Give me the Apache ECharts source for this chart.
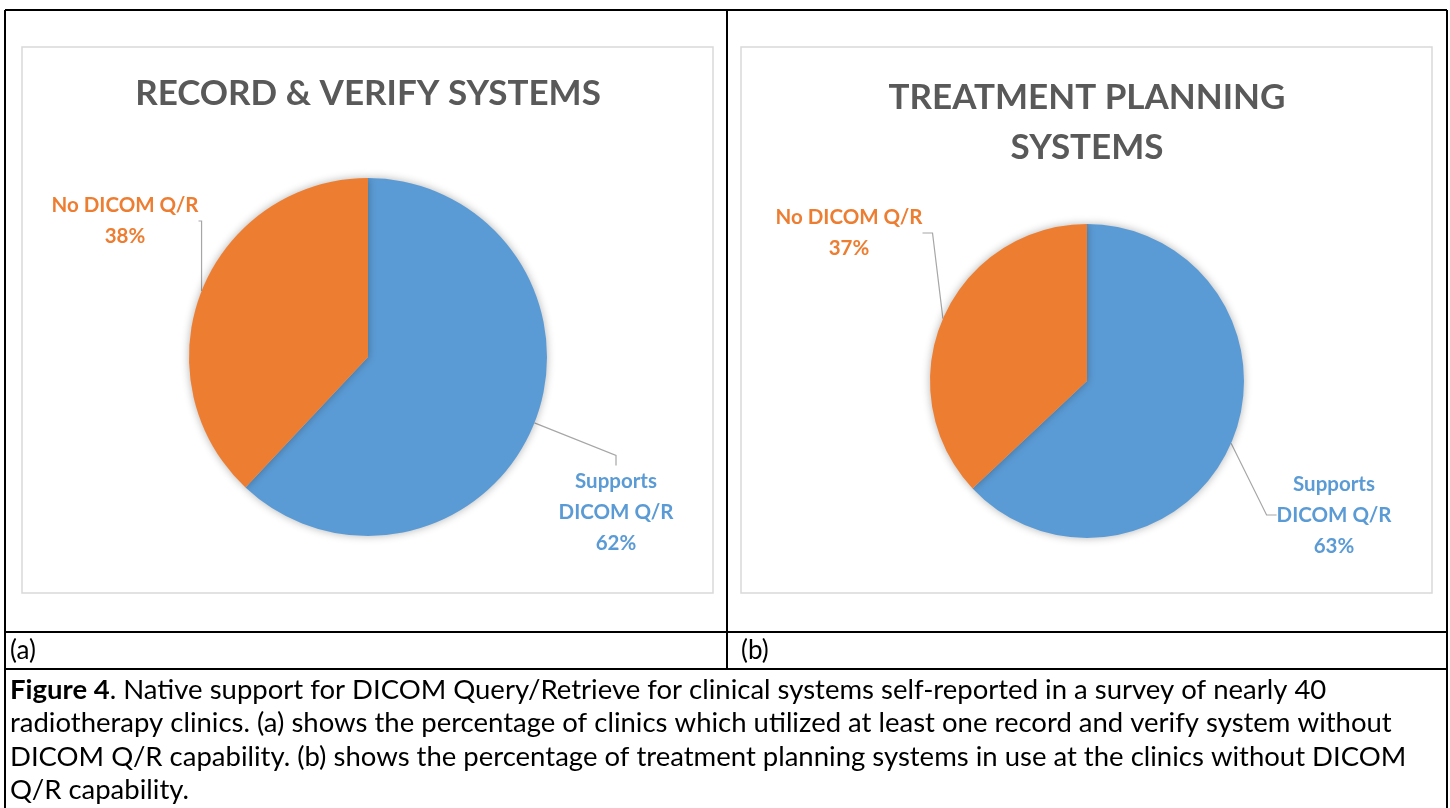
<!DOCTYPE html>
<html><head><meta charset="utf-8">
<script src="https://cdn.jsdelivr.net/npm/echarts@6/dist/echarts.min.js"></script>
<style>html,body{margin:0;padding:0;background:#fff}#c{width:1450px;height:808px}</style>
</head><body><div id="c"></div>
<script>
const categories = ['Supports\nDICOM Q/R', 'No DICOM Q/R'];
const rvValues = [62, 38];
const tpsValues = [63, 37];
const chartTitles = ['RECORD & VERIFY SYSTEMS', 'TREATMENT PLANNING\nSYSTEMS'];
const panelLabels = ['(a)', '(b)'];
const captionBold = 'Figure 4';
const captionLines = [
  '. Native support for DICOM Query/Retrieve for clinical systems self-reported in a survey of nearly 40',
  'radiotherapy clinics. (a) shows the percentage of clinics which utilized at least one record and verify system without',
  'DICOM Q/R capability. (b) shows the percentage of treatment planning systems in use at the clinics without DICOM',
  'Q/R capability.'
];

const FONT = 'Lato, "Open Sans", sans-serif';
const colors = ['#5B9BD5', '#ED7D31'];

function pieSeries(values, center, radius, labelPos) {
  return {
    type: 'pie',
    center: center,
    radius: radius,
    startAngle: 90,
    clockwise: true,
    animation: false,
    data: categories.map((c, i) => ({ name: c, value: values[i], itemStyle: { color: colors[i] } })),
    itemStyle: { shadowBlur: 8, shadowColor: 'rgba(0,0,0,0.3)', borderWidth: 0 },
    label: {
      show: true,
      formatter: '{b}\n{d}%',
      fontFamily: FONT,
      fontWeight: 'bold',
      fontSize: 20.5,
      lineHeight: 31,
      align: 'center',
      color: 'inherit'
    },
    labelLine: { show: true, length: 20, length2: 10, lineStyle: { color: '#A6A6A6', width: 1.2 } },
    labelLayout: function (p) {
      const pos = labelPos[p.dataIndex];
      return { x: pos[0], y: pos[1], align: 'center', verticalAlign: 'middle' };
    },
    emphasis: { disabled: true }
  };
}

const chart = echarts.init(document.getElementById('c'), null, { renderer: 'canvas' });

const graphics = [];
const L = 5, R = 1447, T = 10, MID = 727, ROW1 = 632, ROW2 = 669;
function line(x1, y1, x2, y2, w, c) {
  graphics.push({ type: 'line', shape: { x1, y1, x2, y2 }, style: { stroke: c, lineWidth: w }, silent: true });
}
line(L, T, R, T, 2, '#000');
line(L, T, L, 808, 2, '#000');
line(R, T, R, 808, 2, '#000');
line(MID, T, MID, ROW2, 2, '#000');
line(L, ROW1, R, ROW1, 2, '#000');
line(L, ROW2, R, ROW2, 2, '#000');
graphics.push({ type: 'rect', shape: { x: 22, y: 47, width: 691, height: 546 }, style: { fill: 'none', stroke: '#D9D9D9', lineWidth: 1.5 }, silent: true, z: -1 });
graphics.push({ type: 'rect', shape: { x: 741, y: 47, width: 691, height: 546 }, style: { fill: 'none', stroke: '#D9D9D9', lineWidth: 1.5 }, silent: true, z: -1 });
graphics.push({ type: 'text', x: 368, y: 94, style: { text: chartTitles[0], font: 'bold 35px ' + FONT, fill: '#595959', align: 'center', verticalAlign: 'middle' } });
graphics.push({ type: 'text', x: 1087, y: 123, style: { text: chartTitles[1], font: 'bold 35px ' + FONT, fill: '#595959', align: 'center', verticalAlign: 'middle', lineHeight: 50 } });
graphics.push({ type: 'text', x: 10, y: 651, style: { text: panelLabels[0], font: '26px ' + FONT, fill: '#000', verticalAlign: 'middle' } });
graphics.push({ type: 'text', x: 741, y: 651, style: { text: panelLabels[1], font: '26px ' + FONT, fill: '#000', verticalAlign: 'middle' } });
const capY = [690, 723, 757, 790];
const CAP = 27.5;
graphics.push({ type: 'text', x: 10, y: capY[0], style: {
  text: '{b|' + captionBold + '}{n|' + captionLines[0] + '}',
  verticalAlign: 'middle',
  rich: { b: { font: 'bold ' + CAP + 'px ' + FONT, fill: '#000' }, n: { font: CAP + 'px ' + FONT, fill: '#000' } }
} });
for (let i = 1; i < captionLines.length; i++) {
  graphics.push({ type: 'text', x: 10, y: capY[i], style: { text: captionLines[i], font: CAP + 'px ' + FONT, fill: '#000', verticalAlign: 'middle' } });
}

chart.setOption({
  animation: false,
  graphic: graphics,
  series: [
    pieSeries(rvValues, [368, 357], 179, [[616, 512], [125, 221]]),
    pieSeries(tpsValues, [1087, 381], 157, [[1334, 515], [849, 233]])
  ]
});
</script></body></html>
